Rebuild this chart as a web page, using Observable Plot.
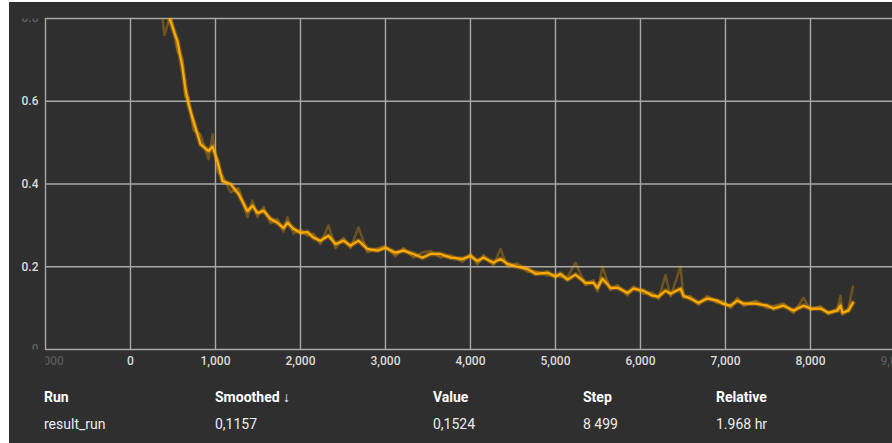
<!DOCTYPE html>
<html>
<head>
<meta charset="utf-8">
<script src="https://cdn.jsdelivr.net/npm/d3@7"></script>
<script src="https://cdn.jsdelivr.net/npm/@observablehq/plot@0.6"></script>
<style>
  html, body { margin: 0; padding: 0; background: #ffffff; width: 892px; height: 443px; overflow: hidden; }
  #panel { position: absolute; left: 9px; top: 2px; width: 883px; height: 441px; background: #2f2f2f; }
  #chart { position: absolute; left: 0; top: 0; }
  .tbl { position: absolute; font-family: Roboto, sans-serif; font-size: 14px; color: #ececec; white-space: nowrap; }
  .hd { font-weight: 700; color: #ffffff; }
</style>
</head>
<body>
<div id="panel"></div>
<div id="chart"></div>
<script>
const steps = [0, 100, 200, 300, 400, 471, 553, 612, 647, 682, 741, 824, 918, 965, 1024, 1082, 1176, 1271, 1376, 1435, 1494, 1565, 1647, 1729, 1800, 1847, 1918, 2000, 2082, 2153, 2235, 2329, 2412, 2506, 2588, 2682, 2788, 2906, 3000, 3118, 3212, 3329, 3435, 3529, 3647, 3765, 3906, 4000, 4082, 4153, 4271, 4353, 4435, 4553, 4671, 4765, 4906, 5000, 5059, 5141, 5235, 5353, 5447, 5494, 5553, 5647, 5729, 5847, 5918, 6035, 6141, 6212, 6294, 6353, 6471, 6506, 6588, 6682, 6788, 6906, 6965, 7059, 7141, 7212, 7353, 7494, 7565, 7682, 7800, 7918, 8000, 8118, 8212, 8318, 8353, 8376, 8447, 8499];
const smoothed = [1.30, 1.20, 1.05, 0.95, 0.85, 0.793, 0.745, 0.68, 0.63, 0.593, 0.552, 0.496, 0.48, 0.49, 0.455, 0.407, 0.40, 0.376, 0.335, 0.347, 0.33, 0.335, 0.316, 0.306, 0.294, 0.306, 0.292, 0.282, 0.284, 0.27, 0.263, 0.275, 0.255, 0.263, 0.251, 0.263, 0.243, 0.239, 0.246, 0.234, 0.239, 0.231, 0.222, 0.231, 0.231, 0.222, 0.219, 0.226, 0.214, 0.222, 0.21, 0.219, 0.207, 0.20, 0.195, 0.183, 0.186, 0.176, 0.183, 0.169, 0.181, 0.161, 0.161, 0.149, 0.171, 0.149, 0.149, 0.137, 0.147, 0.142, 0.13, 0.128, 0.142, 0.135, 0.147, 0.13, 0.123, 0.113, 0.123, 0.118, 0.111, 0.106, 0.118, 0.111, 0.111, 0.106, 0.099, 0.106, 0.094, 0.106, 0.099, 0.099, 0.089, 0.094, 0.106, 0.089, 0.094, 0.113];
const raw = [1.32, 1.18, 1.08, 0.93, 0.76, 0.81, 0.72, 0.70, 0.61, 0.61, 0.53, 0.52, 0.46, 0.52, 0.43, 0.42, 0.38, 0.39, 0.32, 0.36, 0.32, 0.345, 0.305, 0.315, 0.285, 0.32, 0.28, 0.29, 0.275, 0.28, 0.255, 0.30, 0.245, 0.27, 0.245, 0.295, 0.235, 0.245, 0.25, 0.225, 0.245, 0.222, 0.235, 0.238, 0.222, 0.228, 0.212, 0.232, 0.205, 0.228, 0.203, 0.243, 0.20, 0.208, 0.188, 0.19, 0.178, 0.182, 0.176, 0.175, 0.21, 0.155, 0.168, 0.14, 0.20, 0.143, 0.156, 0.13, 0.152, 0.135, 0.138, 0.122, 0.18, 0.128, 0.20, 0.125, 0.13, 0.108, 0.13, 0.112, 0.118, 0.10, 0.125, 0.105, 0.118, 0.10, 0.105, 0.112, 0.088, 0.125, 0.095, 0.105, 0.085, 0.10, 0.13, 0.084, 0.10, 0.152];
const xTicks = [-1000, 0, 1000, 2000, 3000, 4000, 5000, 6000, 7000, 8000, 9000];
const yTicks = [0, 0.2, 0.4, 0.6, 0.8];
const headers = ["Run", "Smoothed ↓", "Value", "Step", "Relative"];
const rowValues = ["result_run", "0,1157", "0,1524", "8 499", "1.968 hr"];

const data = steps.map((s, i) => ({step: s, smoothed: smoothed[i], raw: raw[i]}));
const fadeX = new Set([-1000, 9000]);
const fadeY = new Set([0, 0.8]);

const svg = Plot.plot({
  width: 892,
  height: 375,
  marginLeft: 45,
  marginRight: 0,
  marginTop: 18,
  marginBottom: 26,
  x: {domain: [-1000, 8965], label: null},
  y: {domain: [0, 0.8], label: null},
  style: {background: "transparent", fontFamily: "Roboto, sans-serif", fontSize: "12px", fontWeight: 500, color: "#dcdcdc", overflow: "hidden"},
  marks: [
    Plot.gridX(xTicks, {stroke: "#a8a8a8", strokeOpacity: 1, strokeWidth: 1.4}),
    Plot.gridY(yTicks, {stroke: "#a8a8a8", strokeOpacity: 1, strokeWidth: 1.4}),
    Plot.line(data, {x: "step", y: "raw", stroke: "#ffa800", strokeOpacity: 0.3, strokeWidth: 2.5, clip: true}),
    Plot.line(data, {x: "step", y: "smoothed", stroke: "#ffa800", strokeOpacity: 0.3, strokeWidth: 5, clip: true}),
    Plot.line(data, {x: "step", y: "smoothed", stroke: "#ffab00", strokeWidth: 2.2, clip: true}),
    Plot.axisX(xTicks, {label: null, tickSize: 0, tickPadding: 7, tickFormat: d3.format(","), fill: "#dcdcdc", fillOpacity: d => fadeX.has(d) ? 0.25 : 1}),
    Plot.axisY(yTicks, {label: null, tickSize: 0, tickPadding: 7, tickFormat: d => d === 0 ? "0" : d.toFixed(1), fill: "#dcdcdc", fillOpacity: d => fadeY.has(d) ? 0.3 : 1})
  ]
});

// clip tick labels to the frame extents, as in the reference
const s = d3.select(svg);
const defs = s.append("defs");
defs.append("clipPath").attr("id", "clipYLab").append("rect").attr("x", 0).attr("y", 18).attr("width", 45).attr("height", 331);
defs.append("clipPath").attr("id", "clipXLab").append("rect").attr("x", 45).attr("y", 340).attr("width", 847).attr("height", 40);
s.selectAll('g[aria-label="y-axis tick label"]').attr("clip-path", "url(#clipYLab)");
s.selectAll('g[aria-label="x-axis tick label"]').attr("clip-path", "url(#clipXLab)");

document.getElementById("chart").appendChild(svg);

const colX = [44, 215, 433, 583, 716];
headers.forEach((h, i) => {
  const d = document.createElement("div");
  d.className = "tbl hd";
  d.style.left = colX[i] + "px";
  d.style.top = "389px";
  d.textContent = h;
  document.body.appendChild(d);
});
rowValues.forEach((v, i) => {
  const d = document.createElement("div");
  d.className = "tbl";
  d.style.left = colX[i] + "px";
  d.style.top = "416px";
  d.textContent = v;
  document.body.appendChild(d);
});
</script>
</body>
</html>
